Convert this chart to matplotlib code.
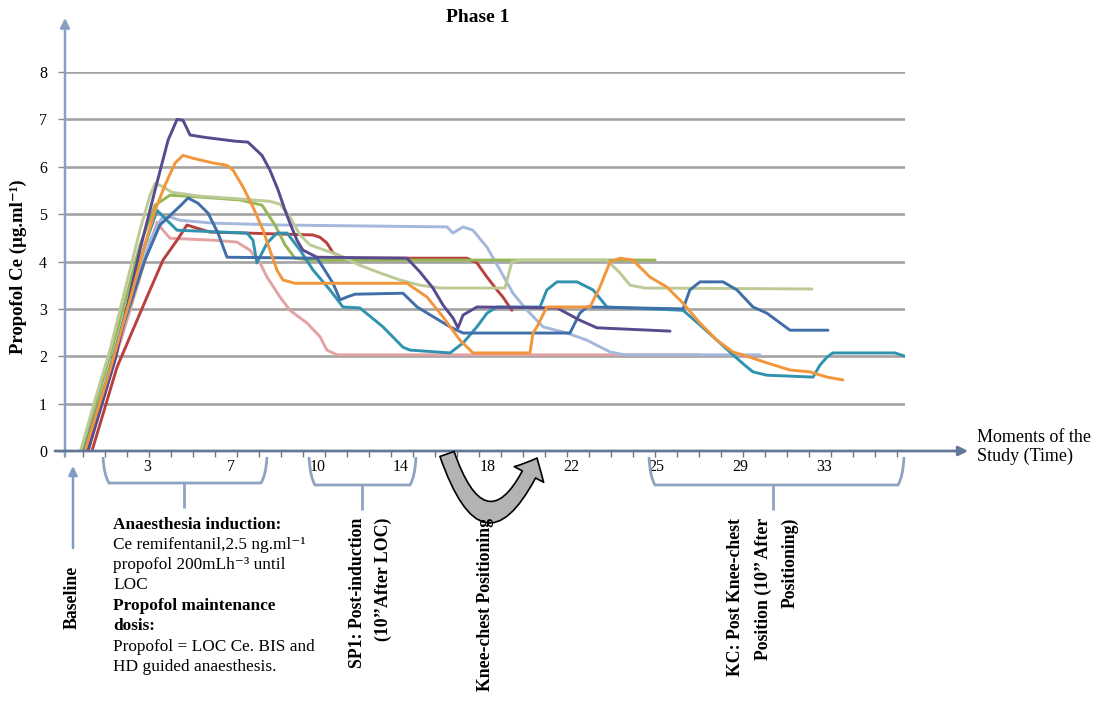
import matplotlib
matplotlib.use('Agg')
import matplotlib.pyplot as plt
from matplotlib.patches import FancyArrowPatch, PathPatch
from matplotlib.path import Path
import numpy as np

# ---------------- data (x = moment index, y = propofol Ce) ----------------
purple_x = [0.24, 1.47, 2.6, 3.29, 3.88, 4.29, 4.56, 4.88, 5.56, 6.92, 7.51, 8.15, 8.51, 8.88, 9.2, 9.42, 9.74, 10.01, 10.65, 14.74, 15.33, 15.92, 16.38, 16.83, 17.06, 17.29, 17.92, 21.56, 22.6, 23.38, 25.79, 26.7]
purple_y = [0, 1.92, 4.24, 5.51, 6.56, 7.0, 6.98, 6.67, 6.62, 6.54, 6.52, 6.24, 5.93, 5.51, 5.08, 4.81, 4.45, 4.24, 4.09, 4.07, 3.78, 3.44, 3.08, 2.81, 2.6, 2.87, 3.04, 3.02, 2.76, 2.6, 2.55, 2.53]

orange_x = [0.1, 1.24, 2.15, 2.83, 3.29, 3.74, 4.2, 4.56, 5.01, 5.92, 6.56, 6.83, 7.29, 7.74, 8.2, 8.51, 8.83, 9.1, 9.65, 14.74, 15.65, 16.38, 17.15, 17.74, 20.33, 20.47, 20.65, 21.1, 23.06, 23.51, 23.97, 24.42, 25.01, 25.79, 26.56, 27.29, 28.06, 28.83, 29.56, 30.33, 31.1, 32.15, 33.06, 33.83, 34.56]
orange_y = [0, 1.71, 3.19, 4.35, 5.08, 5.61, 6.08, 6.24, 6.18, 6.08, 6.03, 5.93, 5.57, 5.15, 4.66, 4.24, 3.82, 3.61, 3.54, 3.54, 3.25, 2.83, 2.34, 2.07, 2.07, 2.49, 2.62, 3.04, 3.04, 3.46, 3.99, 4.07, 4.03, 3.67, 3.46, 3.12, 2.7, 2.34, 2.09, 1.98, 1.86, 1.71, 1.67, 1.56, 1.5]

sage_x = [-0.1, 0.56, 1.24, 1.92, 2.6, 3.06, 3.29, 3.6, 4.06, 5.33, 7.15, 8.51, 8.97, 9.42, 9.88, 10.33, 11.24, 11.93, 12.6, 13.51, 14.42, 15.33, 16.24, 19.19, 19.51, 19.88, 23.83, 24.42, 24.88, 25.56, 33.15]
sage_y = [0, 1.08, 2.13, 3.4, 4.66, 5.4, 5.65, 5.59, 5.46, 5.38, 5.32, 5.27, 5.21, 4.94, 4.56, 4.35, 4.2, 4.07, 3.92, 3.76, 3.61, 3.5, 3.44, 3.44, 3.99, 4.03, 4.03, 3.76, 3.5, 3.44, 3.42]

olive_x = [0.0, 0.79, 1.7, 2.6, 3.29, 3.97, 5.33, 7.15, 8.15, 8.74, 9.2, 9.65, 10.33, 26.02]
olive_y = [0, 1.29, 2.76, 4.35, 5.19, 5.4, 5.36, 5.3, 5.19, 4.77, 4.35, 4.07, 4.03, 4.03]

blue_x = [0.15, 1.01, 1.92, 2.83, 3.51, 4.38, 4.79, 5.24, 5.7, 6.15, 6.56, 10.65, 10.92, 11.38, 11.7, 12.01, 12.38, 14.56, 15.2, 16.7, 17.29, 22.15, 22.6, 22.92, 27.29, 27.6, 28.06, 29.11, 29.74, 30.47, 31.1, 32.15, 33.88]
blue_y = [0, 1.29, 2.76, 4.03, 4.77, 5.15, 5.34, 5.23, 5.02, 4.6, 4.09, 4.07, 3.88, 3.54, 3.19, 3.25, 3.31, 3.33, 3.04, 2.62, 2.49, 2.49, 2.91, 3.04, 3.0, 3.4, 3.57, 3.57, 3.4, 3.04, 2.91, 2.55, 2.55]

teal_x = [0.06, 1.01, 1.92, 2.83, 3.38, 3.83, 4.29, 7.47, 7.74, 7.92, 8.38, 8.83, 9.29, 9.88, 10.47, 11.24, 11.83, 12.6, 13.65, 14.56, 14.88, 16.7, 17.29, 17.92, 18.38, 18.83, 20.79, 21.1, 21.56, 22.47, 23.2, 23.83, 27.29, 28.06, 28.97, 29.56, 30.1, 30.47, 31.1, 33.2, 33.51, 33.83, 34.1, 36.92, 37.38]
teal_y = [0, 1.39, 2.87, 4.35, 5.08, 4.87, 4.66, 4.6, 4.45, 3.97, 4.39, 4.6, 4.6, 4.24, 3.82, 3.4, 3.04, 3.02, 2.62, 2.19, 2.13, 2.07, 2.28, 2.62, 2.91, 3.04, 3.04, 3.4, 3.57, 3.57, 3.4, 3.04, 2.97, 2.66, 2.28, 2.03, 1.81, 1.67, 1.6, 1.56, 1.81, 1.98, 2.07, 2.07, 2.0]

red_x = [0.42, 1.56, 2.92, 3.65, 4.29, 4.74, 5.01, 5.79, 7.47, 10.47, 10.79, 11.1, 11.38, 11.93, 17.47, 17.92, 18.38, 18.83, 19.1, 19.51]
red_y = [0, 1.77, 3.25, 4.03, 4.45, 4.77, 4.73, 4.62, 4.6, 4.56, 4.51, 4.39, 4.18, 4.07, 4.07, 3.97, 3.67, 3.4, 3.25, 2.97]

pink_x = [0.24, 1.24, 2.15, 2.97, 3.38, 3.65, 3.97, 5.92, 7.01, 7.6, 8.06, 8.38, 8.97, 9.42, 10.2, 10.79, 11.1, 11.56, 28.06]
pink_y = [0, 1.6, 2.97, 4.24, 4.83, 4.66, 4.49, 4.45, 4.41, 4.24, 3.97, 3.67, 3.25, 2.97, 2.7, 2.41, 2.13, 2.03, 2.03]

lavender_x = [0.15, 1.15, 2.15, 3.06, 3.6, 3.97, 4.42, 5.92, 8.97, 16.56, 16.83, 17.29, 17.74, 18.38, 18.97, 19.56, 20.2, 20.93, 22.01, 22.92, 23.97, 24.65, 30.79]
lavender_y = [0, 1.5, 3.08, 4.45, 4.92, 4.94, 4.87, 4.81, 4.77, 4.73, 4.6, 4.73, 4.66, 4.3, 3.82, 3.33, 2.97, 2.62, 2.49, 2.34, 2.09, 2.03, 2.03]

y_ticks = [0, 1, 2, 3, 4, 5, 6, 7, 8]
moment_pos = [2.92, 6.74, 10.7, 14.47, 18.4, 22.2, 26.06, 29.9, 33.7]
moment_labels = ['3', '7', '10', '14', '18', '22', '25', '29', '33']
minor_moments = list(range(0, 38))

series = [
    (pink_x, pink_y, '#e3a2a4'),
    (lavender_x, lavender_y, '#a3b8da'),
    (red_x, red_y, '#b8403e'),
    (olive_x, olive_y, '#97b654'),
    (sage_x, sage_y, '#bccb96'),
    (teal_x, teal_y, '#2f93b0'),
    (blue_x, blue_y, '#3f6ea8'),
    (purple_x, purple_y, '#574a8e'),
    (orange_x, orange_y, '#f3953a'),
]

# ---------------- figure ----------------
W, H = 1097, 702
plt.rcParams['font.family'] = ['Liberation Serif', 'DejaVu Serif']
fig = plt.figure(figsize=(W / 100, H / 100), dpi=100)


def P(px, py):
    return (px / W, 1 - py / H)


ax = fig.add_axes([65 / W, 1 - 451 / H, 840 / W, 379 / H])
ax.set_xlim(-0.805, 37.38)
ax.set_ylim(0, 8)
for s in ax.spines.values():
    s.set_visible(False)

for g in y_ticks[1:]:
    ax.axhline(g, color='#a3a3a3', lw=1.9, zorder=1)

for xs, ys, c in series:
    ax.plot(xs, ys, color=c, lw=2.1, solid_joinstyle='round', solid_capstyle='round', zorder=3)

ax.set_yticks(y_ticks)
ax.set_yticklabels([str(v) for v in y_ticks])
ax.tick_params(axis='y', length=5, width=1, color='#8a8a8a', labelsize=11.5, pad=8)
ax.set_xticks(minor_moments)
ax.tick_params(axis='x', length=4, width=1, color='#6b7487', labelbottom=False)

for pos, lab in zip(moment_pos, moment_labels):
    ax.text(pos, -0.34, lab, ha='center', va='center', fontsize=11.5)

# axes arrows
ax.annotate('', xy=(-0.805, 9.14), xytext=(-0.805, -0.12),
            arrowprops=dict(arrowstyle='-|>', color='#86a0c6', lw=1.8, mutation_scale=14,
                            shrinkA=0, shrinkB=0), annotation_clip=False, zorder=4)
ax.annotate('', xy=(40.25, 0), xytext=(-1.26, 0),
            arrowprops=dict(arrowstyle='-|>', color='#637896', lw=2.0, mutation_scale=14,
                            shrinkA=0, shrinkB=0), annotation_clip=False, zorder=4)

# title & labels
fig.text(*P(478, 18), 'Phase 1', ha='center', va='center', fontsize=14, fontweight='bold')
fig.text(*P(18, 267), 'Propofol Ce (µg.ml⁻¹)', ha='center', va='center', rotation=90,
         fontsize=13.5, fontweight='bold')
fig.text(*P(977, 447), 'Moments of the\nStudy (Time)', ha='left', va='center', fontsize=13,
         linespacing=1.15)


# braces
def brace(x0, x1, ytop, ybot, xs, ystem):
    pts = [P(x0, ytop), P(x0 + 1, ybot - 8), P(x0 + 6, ybot),
           P(x1 - 6, ybot), P(x1 - 1, ybot - 8), P(x1, ytop)]
    codes = [Path.MOVETO, Path.CURVE3, Path.CURVE3, Path.LINETO, Path.CURVE3, Path.CURVE3]
    fig.add_artist(PathPatch(Path(pts, codes), transform=fig.transFigure, fill=False,
                             edgecolor='#8ea3bf', lw=2.0))
    fig.add_artist(PathPatch(Path([P(xs, ybot), P(xs, ystem)]), transform=fig.transFigure,
                             fill=False, edgecolor='#8ea3bf', lw=2.0))


brace(103, 267, 457, 483, 184, 508)
brace(309, 416, 457, 485, 362, 510)
brace(649, 904, 457, 485, 773, 510)

# baseline arrow
fig.add_artist(FancyArrowPatch(P(73, 548), P(73, 466), transform=fig.transFigure,
                               arrowstyle='-|>', mutation_scale=13, color='#7f9cc4', lw=1.8,
                               shrinkA=0, shrinkB=0))

# curved knee-chest arrow
fig.add_artist(FancyArrowPatch(P(447, 454), P(537, 458), transform=fig.transFigure,
                               connectionstyle='arc3,rad=1.25',
                               arrowstyle='simple,head_length=0.55,head_width=1.0,tail_width=0.45',
                               mutation_scale=24, facecolor='#b3b3b3', edgecolor='black', lw=1.2,
                               shrinkA=0, shrinkB=0))

# annotation texts
lines = [
    ('Anaesthesia induction:', 'bold', 525),
    ('Ce remifentanil,2.5 ng.ml⁻¹', 'normal', 545),
    ('propofol 200mLh⁻³ until', 'normal', 565),
    ('LOC', 'normal', 585),
    ('Propofol maintenance', 'bold', 606),
    ('dosis:', 'bold', 626),
    ('Propofol = LOC Ce. BIS and', 'normal', 647),
    ('HD guided anaesthesis.', 'normal', 667),
]
for txt, wt, yy in lines:
    fig.text(*P(113, yy), txt, ha='left', va='center', fontsize=12.4, fontweight=wt)

vtexts = [
    ('Baseline', 72, 597, 'center'),
    ('SP1: Post-induction', 357, 518, 'top'),
    ('(10’’After LOC)', 383, 518, 'top'),
    ('Knee-chest Positioning', 486, 518, 'top'),
    ('KC: Post Knee-chest', 736, 518, 'top'),
    ('Position (10’’ After', 763, 518, 'top'),
    ('Positioning)', 790, 518, 'top'),
]
for txt, xx, yy, va in vtexts:
    fig.text(*P(xx, yy), txt, ha='center', va=va, rotation=90, fontsize=12.8, fontweight='bold')

fig.savefig('out.png', dpi=100)
